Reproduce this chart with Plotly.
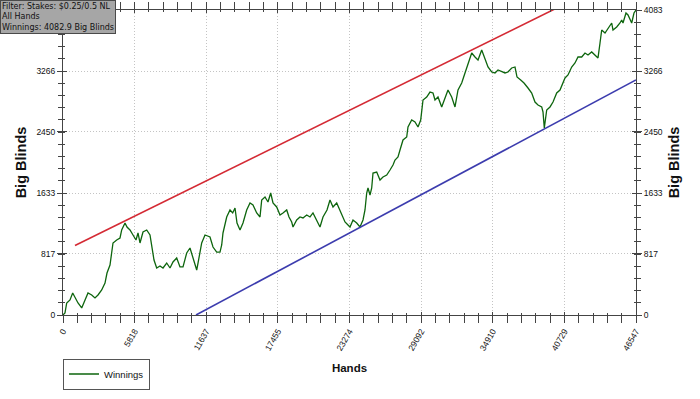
import plotly.graph_objects as go

# ---- data ----
hands = [0, 162, 301, 569, 788, 975, 1219, 1519, 1787, 2031, 2331, 2599, 2843, 3144, 3412, 3574,
         3818, 3956, 4062, 4362, 4630, 4768, 5037, 5199, 5443, 5686, 5930, 6093, 6255, 6499, 6799,
         7067, 7205, 7392, 7612, 7880, 8123, 8424, 8692, 8936, 9236, 9504, 9748, 10049, 10317,
         10560, 10861, 10967, 11267, 11535, 11941, 12185, 12486, 12754, 12892, 12997, 13298, 13566,
         13785, 13972, 14135, 14378, 14622, 14923, 15191, 15434, 15735, 16003, 16141, 16409, 16652,
         16872, 17059, 17359, 17627, 17871, 18172, 18359, 18578, 18684, 18984, 19252, 19496, 19797,
         20065, 20308, 20609, 20877, 21121, 21446, 21689, 21933, 22234, 22502, 22721, 22908, 23152,
         23314, 23558, 23858, 24126, 24370, 24532, 24671, 24776, 24939, 25077, 25183, 25483, 25751,
         25995, 26296, 26564, 26807, 26970, 27213, 27376, 27620, 27920, 28026, 28326, 28594, 28838,
         29057, 29244, 29545, 29813, 30057, 30219, 30463, 30763, 31031, 31275, 31576, 31844, 32088,
         32388, 32656, 32900, 33200, 33468, 33712, 34013, 34281, 34524, 34825, 35093, 35337, 35637,
         35905, 36149, 36450, 36718, 36880, 37181, 37449, 37774, 38074, 38342, 38586, 38887, 38992,
         39098, 39293, 39561, 39805, 40105, 40373, 40779, 41023, 41323, 41592, 41835, 42136, 42404,
         42648, 42948, 43216, 43460, 43623, 43761, 44029, 44273, 44573, 44679, 44979, 45247, 45385,
         45491, 45734, 45897, 46197, 46384, 46547]
winnings = [0, 27, 161, 201, 295, 228, 161, 94, 201, 295, 268, 228, 268, 335, 428, 562,
            669, 830, 964, 1004, 1031, 1138, 1232, 1178, 1138, 1071, 1004, 1098, 964, 1111, 1138,
            1071, 910, 736, 629, 656, 629, 696, 629, 710, 763, 643, 643, 830, 897,
            763, 602, 696, 964, 1071, 1044, 910, 843, 843, 937, 1098, 1312, 1406,
            1366, 1432, 1232, 1138, 1232, 1406, 1499, 1473, 1366, 1312, 1540, 1580, 1513,
            1633, 1499, 1446, 1339, 1366, 1406, 1312, 1245, 1178, 1272, 1312, 1299, 1339,
            1312, 1366, 1272, 1178, 1312, 1406, 1540, 1446, 1499, 1406, 1312, 1245, 1205,
            1178, 1272, 1232, 1178, 1272, 1406, 1633, 1700, 1606, 1700, 1901, 1914, 1807,
            1847, 1874, 1941, 2008, 2075, 2115, 2209, 2343, 2383, 2517, 2610, 2584, 2517,
            2610, 2878, 2918, 2985, 2972, 2878, 2918, 2785, 2918, 3012, 2918, 2785, 3012,
            3106, 3240, 3374, 3507, 3454, 3414, 3548, 3414, 3320, 3253, 3240, 3280, 3253,
            3240, 3253, 3307, 3320, 3186, 3146, 3106, 3039, 2972, 2851, 2811, 2785, 2718,
            2503, 2744, 2785, 2851, 2972, 3012, 3173, 3213, 3320, 3374, 3454, 3454, 3507,
            3481, 3521, 3481, 3441, 3641, 3815, 3775, 3842, 3909, 3815, 3855, 3909, 3949,
            3909, 4043, 4016, 3909, 4043, 4082.9]

upper_x = [975, 40940]
upper_y = [930, 4177]
lower_x = [10804, 46547]
lower_y = [0, 3147]

x_ticks = [0, 5818, 11637, 17455, 23274, 29092, 34910, 40729, 46547]
y_ticks = [0, 817, 1633, 2450, 3266, 4083]
x_max = 46547
y_max = 4083

info_lines = ["Filter: Stakes: $0.25/0.5 NL", "All Hands", "Winnings: 4082.9 Big Blinds"]

# ---- figure ----
FONT = "Liberation Sans, Arial, sans-serif"
AX = "#444444"
GRID = "#c4c4c4"
GDASH = "1px,2px"
L, R, T, B = 63, 64, 10, 84
W, H = 700, 399
pw, ph = W - L - R, H - T - B

fig = go.Figure()
fig.add_trace(go.Scatter(x=hands, y=winnings, mode="lines", name="Winnings",
                         line=dict(color="#0d650d", width=1.3), xaxis="x", yaxis="y"))
fig.add_trace(go.Scatter(x=upper_x, y=upper_y, mode="lines", showlegend=False,
                         line=dict(color="#d42a34", width=1.6), xaxis="x", yaxis="y2"))
fig.add_trace(go.Scatter(x=lower_x, y=lower_y, mode="lines", showlegend=False,
                         line=dict(color="#3c3cae", width=1.6), xaxis="x2", yaxis="y3"))

tickfont = dict(family=FONT, size=8.5, color="#111")
minor_x = dict(tick0=0, dtick=x_max / 40, ticks="outside", ticklen=4, tickcolor=AX, showgrid=False)
minor_y = dict(tick0=0, dtick=y_max / 25, ticks="outside", ticklen=4, tickcolor=AX, showgrid=False)

# the info box covers the top-left tick label in the reference
left_text = [str(v) for v in y_ticks[:-1]] + [""]

fig.update_layout(
    width=W, height=H, margin=dict(l=L, r=R, t=T, b=B),
    paper_bgcolor="white", plot_bgcolor="white",
    showlegend=True,
    legend=dict(x=0, y=-(374 - (T + ph)) / ph, xanchor="left", yanchor="middle",
                bordercolor="#555", borderwidth=1, bgcolor="white",
                font=dict(family=FONT, size=9.5, color="#111"), itemwidth=30,
                tracegroupgap=0),
    xaxis=dict(range=[0, x_max], tickmode="array", tickvals=x_ticks,
               ticktext=[str(v) for v in x_ticks], tickangle=-60, tickfont=tickfont,
               ticks="outside", ticklen=7, tickcolor=AX, showline=True, linecolor=AX,
               mirror="allticks", showgrid=True, gridcolor=GRID, griddash=GDASH, gridwidth=1,
               zeroline=False, minor=minor_x, automargin=False,
               title=dict(text="<b>Hands</b>", font=dict(family=FONT, size=11.5, color="#111"),
                          standoff=12)),
    xaxis2=dict(range=[0, x_max], overlaying="x", anchor="y", tickmode="array",
                tickvals=x_ticks, showticklabels=False, ticks="inside", ticklen=3,
                tickcolor=AX, mirror="allticks", showline=False, showgrid=False,
                zeroline=False, automargin=False,
                minor=dict(tick0=0, dtick=x_max / 40, ticks="inside", ticklen=2,
                           tickcolor=AX, showgrid=False)),
    yaxis=dict(range=[0, y_max], tickmode="array", tickvals=y_ticks,
               ticktext=left_text, tickfont=tickfont,
               ticks="outside", ticklen=5, tickcolor=AX, showline=True, linecolor=AX,
               mirror="allticks", showgrid=True, gridcolor=GRID, griddash=GDASH, gridwidth=1,
               zeroline=False, minor=minor_y, automargin=False,
               title=dict(text="<b>Big Blinds</b>", font=dict(family=FONT, size=14.5, color="#111"),
                          standoff=6)),
    yaxis2=dict(range=[0, y_max], overlaying="y", side="right", anchor="x", tickmode="array",
                tickvals=y_ticks, ticktext=[str(v) for v in y_ticks], tickfont=tickfont,
                ticks="outside", ticklen=5, tickcolor="rgba(0,0,0,0)", showline=False,
                showgrid=False, zeroline=False, automargin=False,
                title=dict(text="<b>Big Blinds</b>", font=dict(family=FONT, size=14.5, color="#111"),
                           standoff=6)),
    yaxis3=dict(range=[0, y_max], overlaying="y", side="left", anchor="x", tickmode="array",
                tickvals=y_ticks, showticklabels=False, ticks="inside", ticklen=4,
                tickcolor=AX, mirror="allticks", showline=False, showgrid=False,
                zeroline=False, automargin=False,
                minor=dict(tick0=0, dtick=y_max / 25, ticks="inside", ticklen=2,
                           tickcolor=AX, showgrid=False)),
)

fig.add_annotation(xref="paper", yref="paper", x=-L / pw, y=1 + T / ph,
                   xanchor="left", yanchor="top", align="left", showarrow=False,
                   text="<br>".join(info_lines),
                   font=dict(family="DejaVu Sans, sans-serif", size=8, color="#111"),
                   bgcolor="#a6a6a6", bordercolor="#4a4a4a", borderwidth=1, borderpad=1)

fig.write_html("out.html")
